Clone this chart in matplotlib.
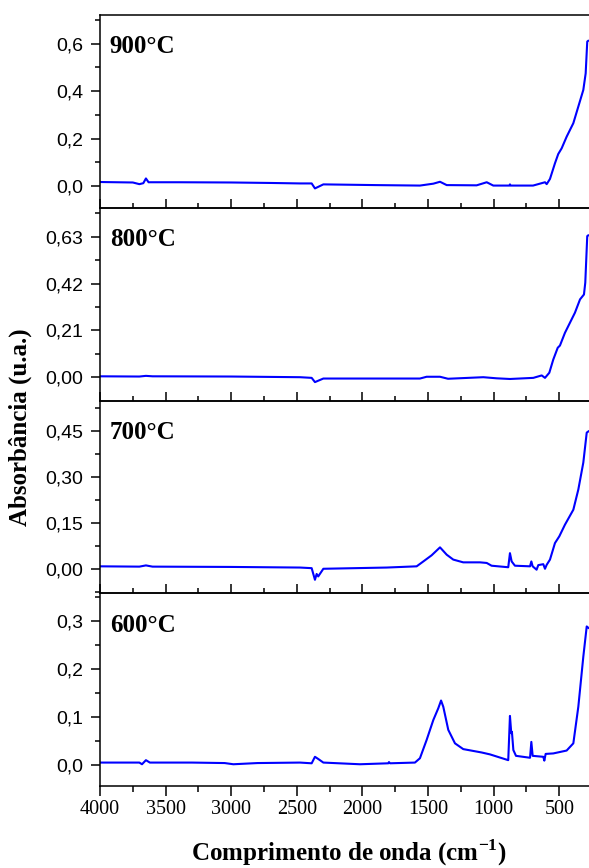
import matplotlib
matplotlib.use("Agg")
import matplotlib.pyplot as plt
from matplotlib.ticker import MultipleLocator, FuncFormatter

plt.rcParams['mathtext.fontset'] = 'custom'
plt.rcParams['mathtext.rm'] = 'Liberation Serif:bold'
plt.rcParams['mathtext.bf'] = 'Liberation Serif:bold'

SERIF = 'Liberation Serif'
SANS = 'Liberation Sans'

# ---------------- data (wavenumber cm-1, absorbance) ----------------
labels = ["900°C", "800°C", "700°C", "600°C"]

wn_900 = [4000, 3750, 3700, 3670, 3650, 3630, 3400, 3000, 2700, 2476, 2387, 2362, 2298,
          1900, 1562, 1460, 1409, 1358, 1130, 1053, 1003, 880, 876, 870, 700, 609, 596,
          571, 533, 508, 482, 444, 393, 355, 317, 299, 287, 280]
ab_900 = [0.017, 0.015, 0.008, 0.012, 0.032, 0.016, 0.016, 0.015, 0.013, 0.011, 0.011, -0.010, 0.007,
          0.004, 0.002, 0.010, 0.018, 0.004, 0.003, 0.016, 0.002, 0.002, 0.007, 0.002, 0.002, 0.016, 0.008,
          0.030, 0.096, 0.135, 0.159, 0.208, 0.265, 0.335, 0.405, 0.475, 0.609, 0.612]

wn_800 = [4000, 3700, 3650, 3600, 3000, 2476, 2387, 2362, 2298, 1562, 1511, 1409, 1348,
          1079, 977, 876, 698, 634, 609, 576, 546, 512, 495, 457, 419, 381, 342, 312,
          302, 287, 280]
ab_800 = [0.004, 0.003, 0.006, 0.004, 0.003, 0.000, -0.003, -0.022, -0.006, -0.006, 0.002, 0.002, -0.007,
          0.000, -0.005, -0.008, -0.003, 0.008, -0.003, 0.020, 0.079, 0.132, 0.142, 0.199, 0.244, 0.289, 0.349, 0.371,
          0.424, 0.633, 0.636]

wn_700 = [4000, 3700, 3650, 3600, 3000, 2476, 2387, 2362, 2349, 2337, 2298, 1816, 1587,
          1536, 1473, 1409, 1358, 1308, 1232, 1104, 1053, 1016, 889, 876, 863, 838,
          723, 713, 703, 673, 660, 622, 609, 596, 571, 533, 500, 457, 393, 355, 317,
          291, 278]
ab_700 = [0.008, 0.007, 0.011, 0.007, 0.006, 0.004, 0.002, -0.036, -0.017, -0.025, 0.000, 0.004, 0.008,
          0.024, 0.044, 0.070, 0.046, 0.030, 0.021, 0.021, 0.019, 0.010, 0.005, 0.051, 0.024, 0.010,
          0.008, 0.024, 0.008, -0.003, 0.012, 0.015, 0.000, 0.013, 0.030, 0.084, 0.106, 0.144, 0.193, 0.259, 0.347,
          0.445, 0.449]

wn_600 = [4000, 3700, 3680, 3650, 3620, 3300, 3050, 2984, 2800, 2476, 2387, 2362, 2337,
          2298, 2019, 1803, 1798, 1790, 1600, 1562, 1511, 1460, 1422, 1401, 1384, 1346,
          1295, 1232, 1092, 1028, 889, 876, 866, 861, 850, 830, 723, 713, 703, 622, 614,
          604, 546, 444, 393, 355, 317, 291, 278]
ab_600 = [0.005, 0.005, 0.0015, 0.010, 0.005, 0.005, 0.004, 0.0015, 0.004, 0.005, 0.0035, 0.017, 0.0125,
          0.005, 0.0015, 0.0035, 0.006, 0.0035, 0.005, 0.014, 0.052, 0.0935, 0.118, 0.134, 0.121, 0.073,
          0.045, 0.033, 0.026, 0.022, 0.010, 0.102, 0.066, 0.069, 0.031, 0.019, 0.015, 0.048, 0.019, 0.017, 0.009,
          0.023, 0.024, 0.030, 0.045, 0.121, 0.225, 0.288, 0.285]

series = [(wn_900, ab_900), (wn_800, ab_800), (wn_700, ab_700), (wn_600, ab_600)]

ylims = [(-0.0915, 0.721), (-0.1045, 0.76), (-0.08, 0.55), (-0.0437, 0.357)]
ymajor = [0.2, 0.21, 0.15, 0.1]
ydec = [1, 2, 2, 1]

# ---------------- figure ----------------
W, H = 589, 868
fig = plt.figure(figsize=(W / 100, H / 100), dpi=100)

left_px, right_px = 100, 592.1
top_px, bot_px = 15, 786
ph = (bot_px - top_px) / 4


def make_fmt(d):
    def f(v, p):
        s = f"{v:.{d}f}"
        if s.startswith('-') and abs(v) < 1e-9:
            s = s[1:]
        return s.replace('.', ',')
    return FuncFormatter(f)


for i, ((x, y), lab) in enumerate(zip(series, labels)):
    y0 = bot_px - (4 - i) * ph
    ax = fig.add_axes([left_px / W, 1 - (y0 + ph) / H, (right_px - left_px) / W, ph / H])
    ax.plot(x, y, color='#0000ff', lw=1.5)
    ax.set_xlim(4000, 250)
    ax.set_ylim(*ylims[i])
    ax.xaxis.set_major_locator(MultipleLocator(500))
    ax.xaxis.set_minor_locator(MultipleLocator(250))
    ax.yaxis.set_major_locator(MultipleLocator(ymajor[i]))
    ax.yaxis.set_minor_locator(MultipleLocator(ymajor[i] / 2))
    ax.yaxis.set_major_formatter(make_fmt(ydec[i]))
    for s in ax.spines.values():
        s.set_linewidth(1.1)
    ax.spines['right'].set_visible(False)
    ax.tick_params(axis='y', which='major', direction='out', length=6.5, width=1.1, pad=5.5,
                   labelsize=14, labelfontfamily=SANS)
    ax.tick_params(axis='y', which='minor', direction='out', length=3.6, width=1.1)
    if i < 3:
        ax.tick_params(axis='x', which='major', direction='in', length=6.5, width=1.1, labelbottom=False)
        ax.tick_params(axis='x', which='minor', direction='in', length=3.3, width=1.1)
    else:
        ax.tick_params(axis='x', which='major', direction='out', length=7.2, width=1.1, pad=3,
                       labelsize=14.5, labelfontfamily=SERIF)
        ax.tick_params(axis='x', which='minor', direction='out', length=4.3, width=1.1)
    ax.set_facecolor('none')
    ax.text(0.02, 0.834, lab, transform=ax.transAxes, fontsize=18, fontweight='bold',
            family=SERIF, ha='left', va='center')

fig.text(20 / W, 1 - 427 / H, 'Absorbância (u.a.)', rotation=90, ha='center', va='center',
         fontsize=18, fontweight='bold', family=SERIF)
fig.text(349 / W, 1 - 853 / H, r'Comprimento de onda (cm$^{\mathregular{-1}}$)', ha='center', va='center',
         fontsize=18, fontweight='bold', family=SERIF)

fig.savefig('out.png', dpi=100)
